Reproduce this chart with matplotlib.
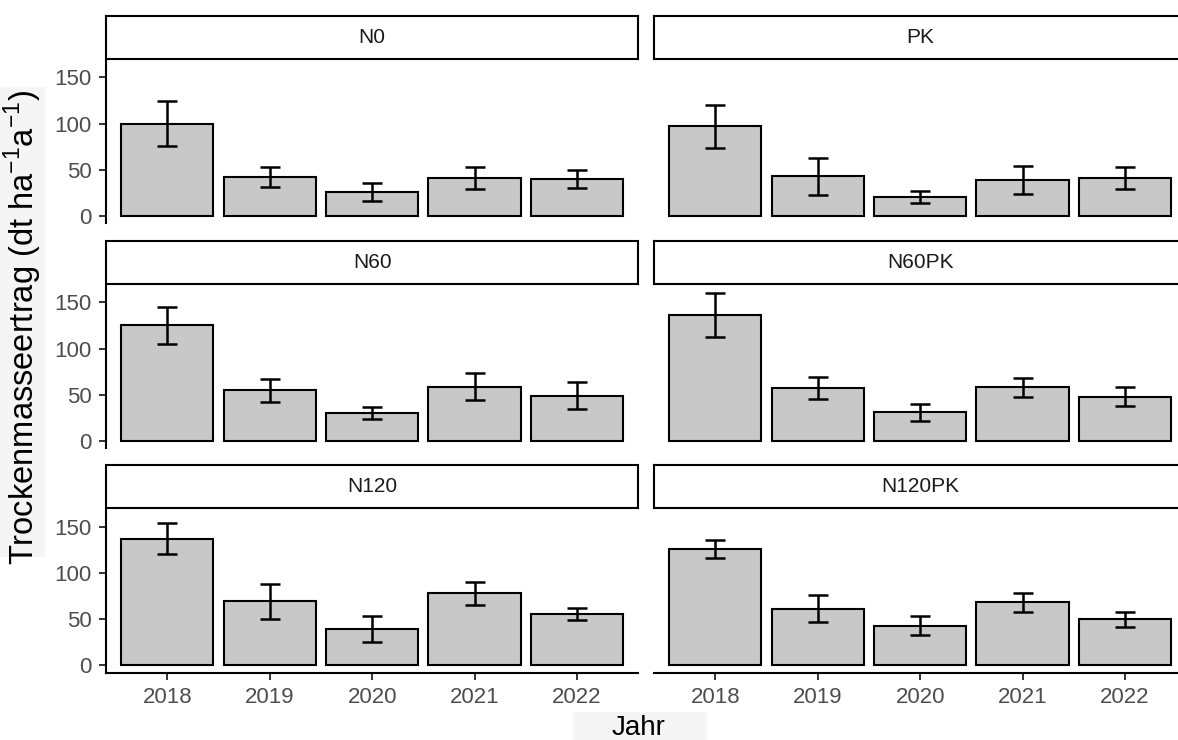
import numpy as np
import matplotlib
matplotlib.use("Agg")
import matplotlib.pyplot as plt
from matplotlib.patches import Rectangle

plt.rcParams['font.family'] = ['Liberation Sans', 'DejaVu Sans']
plt.rcParams['mathtext.fontset'] = 'custom'
plt.rcParams['mathtext.rm'] = 'Liberation Sans'

years = ['2018', '2019', '2020', '2021', '2022']
treatments = ['N0', 'PK', 'N60', 'N60PK', 'N120', 'N120PK']

# mean dry matter yield and standard error per year
mean_n0 = [100, 42, 26, 41, 40]
se_n0 = [24, 10.5, 9.4, 12, 9.5]
mean_pk = [97, 43, 21, 39, 41]
se_pk = [23.5, 20, 6.5, 15, 12]
mean_n60 = [125, 55, 30, 58.5, 49]
se_n60 = [20, 12.5, 6.5, 14.7, 14.7]
mean_n60pk = [136, 57, 31, 58, 48]
se_n60pk = [24, 12, 9, 10, 10]
mean_n120 = [137, 69, 39, 78, 55]
se_n120 = [17, 19, 14, 12.5, 6.5]
mean_n120pk = [125.5, 61, 43, 68, 49.5]
se_n120pk = [10, 14.5, 10.5, 10, 8]

means = [mean_n0, mean_pk, mean_n60, mean_n60pk, mean_n120, mean_n120pk]
ses = [se_n0, se_pk, se_n60, se_n60pk, se_n120, se_n120pk]

W, H = 1178, 740
fig = plt.figure(figsize=(W / 100, H / 100), dpi=100)


def fbox(x0, top, w, h):
    # pixel box (from top-left) -> figure fraction
    return [x0 / W, 1 - (top + h) / H, w / W, h / H]


# light backgrounds behind the axis titles
fig.patches.append(Rectangle((0, 1 - 557 / H), 45 / W, 470 / H, transform=fig.transFigure,
                             facecolor='#f5f5f5', edgecolor='none', zorder=0))
fig.patches.append(Rectangle((573 / W, 0), 134 / W, 28 / H, transform=fig.transFigure,
                             facecolor='#f5f5f5', edgecolor='none', zorder=0))

col_x = [106, 654]
panel_w = 532.3
row_top = [60.65, 285.65, 509.95]
panel_h = 162.7
strip_h = 43.5

ymax = max(max(np.array(m) + np.array(s)) for m, s in zip(means, ses))
ylim = (-0.05 * ymax, 1.05 * ymax)
x = np.arange(1, len(years) + 1)

for i, name in enumerate(treatments):
    r, c = divmod(i, 2)
    ax = fig.add_axes(fbox(col_x[c], row_top[r], panel_w, panel_h))
    ax.bar(x, means[i], width=0.9, color='#c8c8c8', edgecolor='black', linewidth=1.5, zorder=2)
    ax.errorbar(x, means[i], yerr=ses[i], fmt='none', ecolor='black',
                elinewidth=1.8, capsize=7.5, capthick=1.8, zorder=3)
    ax.set_xlim(0.4, len(years) + 0.6)
    ax.set_ylim(*ylim)
    ax.set_facecolor('none')
    for s in ['top', 'right']:
        ax.spines[s].set_visible(False)
    ax.spines['left'].set_visible(c == 0)
    ax.spines['bottom'].set_visible(r == 2)
    for s in ['left', 'bottom']:
        ax.spines[s].set_linewidth(1.5)
    ax.tick_params(axis='both', length=5, width=1.4, color='#333333',
                   labelsize=16, labelcolor='#4d4d4d', pad=5.5)
    ax.set_yticks([0, 50, 100, 150])
    ax.set_xticks(x)
    ax.set_xticklabels(years)
    if c != 0:
        ax.tick_params(axis='y', left=False, labelleft=False)
    if r != 2:
        ax.tick_params(axis='x', bottom=False, labelbottom=False)

    # facet strip
    sx = fig.add_axes(fbox(col_x[c], row_top[r] - strip_h - 1.5, panel_w, strip_h))
    sx.set_xticks([])
    sx.set_yticks([])
    for s in sx.spines.values():
        s.set_linewidth(1.5)
        s.set_color('black')
    sx.text(0.5, 0.5, name, ha='center', va='center', fontsize=15, color='#1a1a1a',
            transform=sx.transAxes)

fig.text(23 / W, 1 - 327 / H, 'Trockenmasseertrag (dt ha$^{\\mathregular{-1}}$a$^{\\mathregular{-1}}$)',
         rotation=90, ha='center', va='center', fontsize=23.5, color='black')
fig.text(639 / W, 1 - 735 / H, 'Jahr', ha='center', va='baseline', fontsize=20, color='black')

fig.savefig('out.png', dpi=100)
